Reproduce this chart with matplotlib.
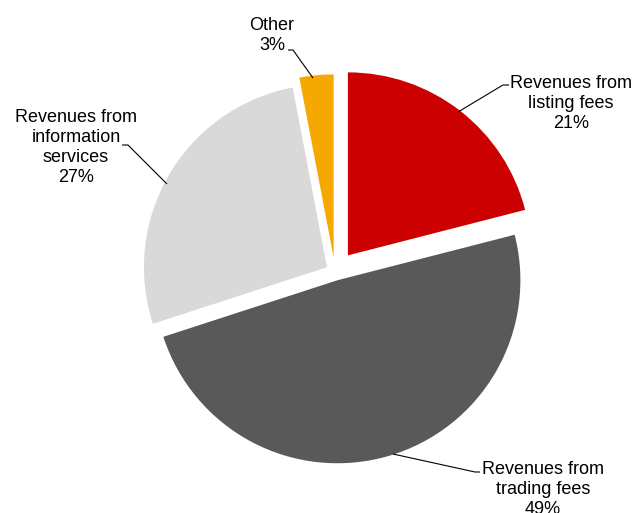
import matplotlib
matplotlib.use("Agg")
import matplotlib.pyplot as plt

# Revenue breakdown (shares in %)
categories = ["Revenues from\nlisting fees",
              "Revenues from\ntrading fees",
              "Revenues from\ninformation\nservices",
              "Other"]
shares = [21, 49, 27, 3]
colors = ["#CC0000", "#595959", "#D9D9D9", "#F5A800"]

W, H = 633, 513
fig = plt.figure(figsize=(W / 100, H / 100), dpi=100)
ax = fig.add_axes([0, 0, 1, 1])

# work in pixel-like units, y measured upward
R = 183
center = (335, H - 272)
explode_frac = [0.115, 0.047, 0.051, 0.08]

ax.pie(shares, colors=colors, startangle=90, counterclock=False,
       radius=R, center=center,
       explode=[e * R for e in explode_frac],
       wedgeprops=dict(linewidth=0), frame=True)
ax.set_xlim(0, W)
ax.set_ylim(0, H)
ax.set_aspect("equal")
ax.set_axis_off()

font = dict(family=["Liberation Sans", "DejaVu Sans"], fontsize=13,
            color="#000000", linespacing=1.23)

def y(py):
    return H - py

# label anchor (x centre, baseline of last line) and leader polylines, top-down pixels
label_pos = [(571, 128), (543, 514), (76, 182), (272, 50)]
leaders = [
    [(509, 85), (503, 85), (458, 112)],
    [(480, 472), (475, 472), (393, 454)],
    [(122, 145), (128, 145), (167, 184)],
    [(288, 50), (293, 50), (313, 78)],
]

for cat, val, (lx, ly), pts in zip(categories, shares, label_pos, leaders):
    ax.text(lx, y(ly), f"{cat}\n{val}%", ha="center", va="baseline",
            multialignment="center", **font)
    xs = [p[0] for p in pts]
    ys = [y(p[1]) for p in pts]
    ax.plot(xs, ys, color="#000000", lw=0.8, solid_capstyle="butt")

fig.savefig("out.png", dpi=100)
